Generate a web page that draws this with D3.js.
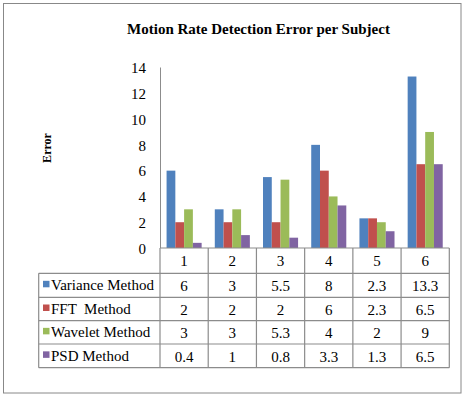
<!DOCTYPE html>
<html>
<head>
<meta charset="utf-8">
<script src="https://cdn.jsdelivr.net/npm/d3@7"></script>
<style>
  html, body { margin: 0; padding: 0; background: #fff; }
  svg { display: block; }
  text { font-family: "Times New Roman", "Liberation Serif", serif; fill: #000; }
</style>
</head>
<body>
<svg id="chart" width="464" height="398"></svg>
<script>
const categories = ["1", "2", "3", "4", "5", "6"];
const seriesNames = ["Variance Method", "FFT  Method", "Wavelet Method", "PSD Method"];
const varianceValues = [6, 3, 5.5, 8, 2.3, 13.3];
const fftValues = [2, 2, 2, 6, 2.3, 6.5];
const waveletValues = [3, 3, 5.3, 4, 2, 9];
const psdValues = [0.4, 1, 0.8, 3.3, 1.3, 6.5];
const yTicks = [0, 2, 4, 6, 8, 10, 12, 14];
const seriesColors = ["#4F81BD", "#C0504D", "#9BBB59", "#8064A2"];
const valueLabels = [
  ["6", "3", "5.5", "8", "2.3", "13.3"],
  ["2", "2", "2", "6", "2.3", "6.5"],
  ["3", "3", "5.3", "4", "2", "9"],
  ["0.4", "1", "0.8", "3.3", "1.3", "6.5"]
];

const seriesValues = [varianceValues, fftValues, waveletValues, psdValues];
const svg = d3.select("#chart");
const gridColor = "#8c8c8c";
const serif = '"Times New Roman", "Liberation Serif", serif';

// outer border
svg.append("rect")
  .attr("x", 3.5).attr("y", 3.5).attr("width", 457.5).attr("height", 389.5)
  .attr("fill", "#fff").attr("stroke", "#888").attr("stroke-width", 1);

// title
svg.append("text")
  .attr("x", 258.5).attr("y", 34)
  .attr("text-anchor", "middle")
  .style("font-family", serif)
  .style("font-size", "15px").style("font-weight", "bold")
  .text("Motion Rate Detection Error per Subject");

// scales
const plotLeft = 160, plotRight = 449.3, yTop = 67.5, yBottom = 248;
const x0 = d3.scaleBand().domain(categories).range([plotLeft, plotRight]).paddingInner(0).paddingOuter(0);
const x1 = d3.scaleBand().domain(d3.range(seriesNames.length)).range([0, x0.bandwidth()]).paddingInner(0).paddingOuter(0.75);
const y = d3.scaleLinear().domain([0, 14]).range([yBottom, yTop]);

// y-axis title
svg.append("text")
  .attr("transform", "translate(51,148) rotate(-90)")
  .attr("text-anchor", "middle")
  .style("font-family", serif)
  .style("font-size", "12px").style("font-weight", "bold")
  .text("Error");

// bars
const groups = svg.append("g").selectAll("g")
  .data(categories)
  .join("g")
  .attr("transform", d => `translate(${x0(d)},0)`);

groups.selectAll("rect")
  .data((d, ci) => seriesValues.map((vals, si) => ({ si, v: vals[ci] })))
  .join("rect")
  .attr("x", d => x1(d.si))
  .attr("width", x1.bandwidth())
  .attr("y", d => y(d.v))
  .attr("height", d => y(0) - y(d.v))
  .attr("fill", d => seriesColors[d.si]);

// y axis
const yAxis = d3.axisLeft(y).tickValues(yTicks).tickSize(0).tickPadding(14).tickFormat(d3.format("d"));
const yg = svg.append("g").attr("transform", `translate(${plotLeft},0)`).call(yAxis);
yg.attr("font-family", null);
yg.select(".domain").attr("stroke", gridColor).attr("d", `M0.5,${yTop}V${yBottom}`);
yg.selectAll("text")
  .style("font-size", "15px")
  .style("font-family", serif)
  .attr("dy", "0.35em");

// data table
const tableLeft = 38.7;
const headerBottom = 273.3;
const rowEdges = [273.3, 297.3, 320.7, 344, 367.7];
const tg = svg.append("g");
const line = (x1p, y1p, x2p, y2p) => tg.append("line")
  .attr("x1", x1p).attr("y1", y1p).attr("x2", x2p).attr("y2", y2p)
  .attr("stroke", gridColor).attr("stroke-width", 1.2);

line(plotLeft, yBottom, plotRight, yBottom);
rowEdges.forEach(ry => line(tableLeft, ry, plotRight, ry));
const colEdges = categories.map(c => x0(c)).concat([plotRight]);
colEdges.forEach(cx => line(cx, yBottom, cx, rowEdges[rowEdges.length - 1]));
line(tableLeft, rowEdges[0], tableLeft, rowEdges[rowEdges.length - 1]);

// header numbers
tg.selectAll("text.hdr")
  .data(categories)
  .join("text")
  .attr("class", "hdr")
  .attr("x", d => x0(d) + x0.bandwidth() / 2)
  .attr("y", (yBottom + headerBottom) / 2)
  .attr("dy", "0.35em")
  .attr("text-anchor", "middle")
  .style("font-family", serif)
  .style("font-size", "15px")
  .text(d => d);

// rows
seriesNames.forEach((name, si) => {
  const rTop = rowEdges[si], rBot = rowEdges[si + 1];
  const cy = (rTop + rBot) / 2;
  tg.append("rect")
    .attr("x", 43).attr("y", cy - 4.5).attr("width", 6.5).attr("height", 6.5)
    .attr("fill", seriesColors[si]);
  tg.append("text")
    .attr("x", 51).attr("y", cy + 5)
    .style("font-family", serif)
    .style("font-size", "15px")
    .style("white-space", "pre")
    .attr("xml:space", "preserve")
    .text(name);
  tg.selectAll(null)
    .data(categories)
    .join("text")
    .attr("x", d => x0(d) + x0.bandwidth() / 2)
    .attr("y", cy + 6)
    .attr("text-anchor", "middle")
    .style("font-family", serif)
    .style("font-size", "15px")
    .text((d, ci) => valueLabels[si][ci]);
});
</script>
</body>
</html>
